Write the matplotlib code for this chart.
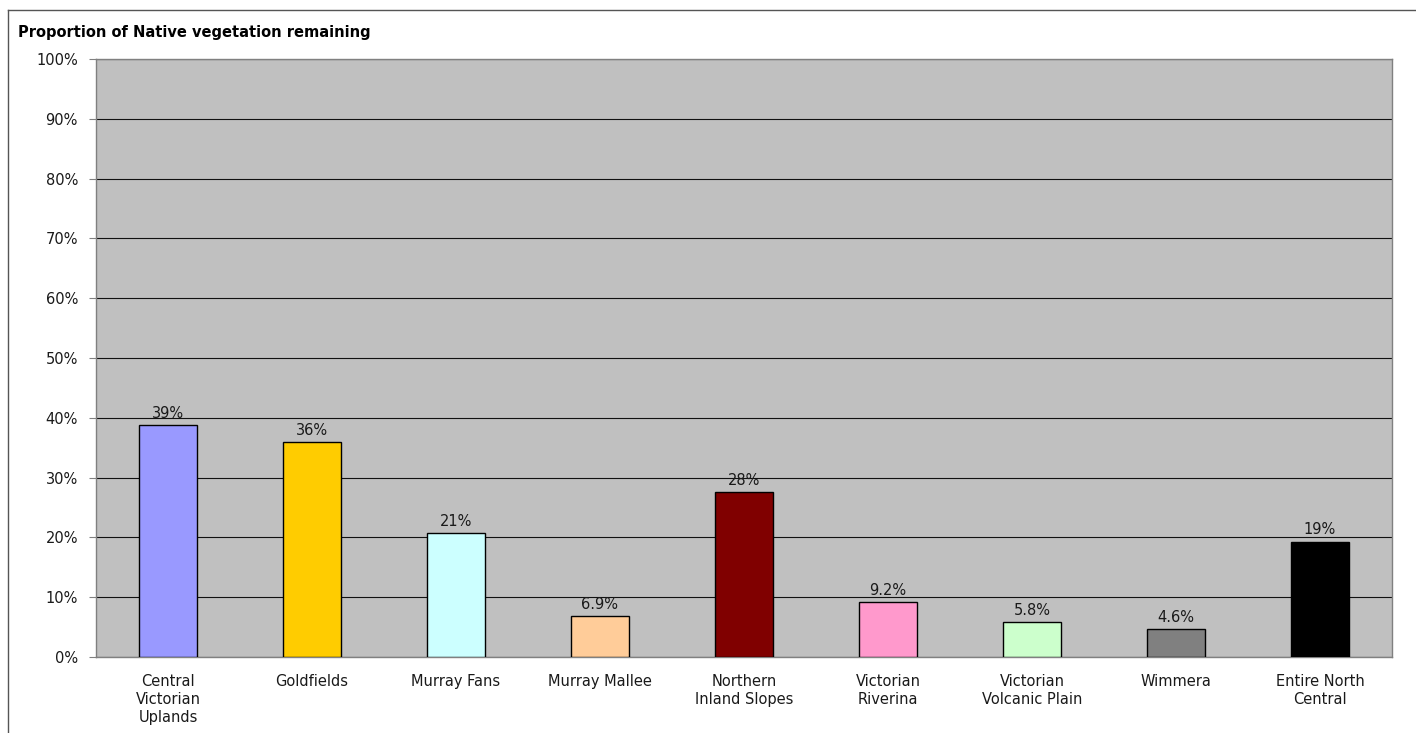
import matplotlib

matplotlib.use("Agg")
import matplotlib.pyplot as plt
from matplotlib.lines import Line2D
from matplotlib.ticker import MultipleLocator, PercentFormatter

# --- data -------------------------------------------------------------------
regions = [
    "Central\nVictorian\nUplands",
    "Goldfields",
    "Murray Fans",
    "Murray Mallee",
    "Northern\nInland Slopes",
    "Victorian\nRiverina",
    "Victorian\nVolcanic Plain",
    "Wimmera",
    "Entire North\nCentral",
]
remaining = [0.388, 0.360, 0.207, 0.069, 0.276, 0.092, 0.058, 0.046, 0.193]
value_labels = ["39%", "36%", "21%", "6.9%", "28%", "9.2%", "5.8%", "4.6%", "19%"]
bar_colors = [
    "#9999ff", "#ffcc00", "#ccffff", "#ffcc99", "#800000",
    "#ff99cc", "#ccffcc", "#808080", "#000000",
]

plt.rcParams["font.family"] = ["DejaVu Sans"]
INK = "#1a1a1a"

W, H = 1416, 733
fig = plt.figure(figsize=(W / 100, H / 100), dpi=100)
fig.patch.set_facecolor("white")

# plot area in pixel terms: x 96..1392, y 59..657
ax = fig.add_axes([96 / W, 1 - 657 / H, (1392 - 96) / W, (657 - 59) / H])
ax.set_facecolor("#c0c0c0")

x = range(len(regions))
ax.bar(x, remaining, width=0.4, color=bar_colors, edgecolor="black",
       linewidth=1, zorder=3)
for i, (v, lab) in enumerate(zip(remaining, value_labels)):
    ax.annotate(lab, (i, v), textcoords="offset points", xytext=(0, 3),
                ha="center", va="bottom", fontsize=10.5, color=INK, zorder=4)

ax.set_xlim(-0.5, len(regions) - 0.5)
ax.set_ylim(0, 1)
ax.yaxis.set_major_locator(MultipleLocator(0.1))
ax.yaxis.set_major_formatter(PercentFormatter(1.0, decimals=0))
ax.grid(axis="y", color="#111111", linewidth=0.8, zorder=1)
ax.set_xticks(list(x), regions, fontsize=10.5, color=INK, linespacing=1.25)
ax.tick_params(axis="x", length=0, pad=12)
ax.tick_params(axis="y", length=5, color="#808080", labelsize=10.5,
               labelcolor=INK, pad=8)
for sp in ax.spines.values():
    sp.set_color("#808080")
    sp.set_linewidth(1)

fig.text(18 / W, 1 - 33 / H, "Proportion of Native vegetation remaining",
         fontsize=10.5, fontweight="bold", ha="left", va="center", color="black")

# outer chart border (cut at right and bottom)
fig.add_artist(Line2D([8 / W, 1], [1 - 10 / H, 1 - 10 / H],
                      transform=fig.transFigure, color="#555555", linewidth=1))
fig.add_artist(Line2D([8 / W, 8 / W], [0, 1 - 10 / H],
                      transform=fig.transFigure, color="#555555", linewidth=1))

fig.savefig("out.png", dpi=100)
